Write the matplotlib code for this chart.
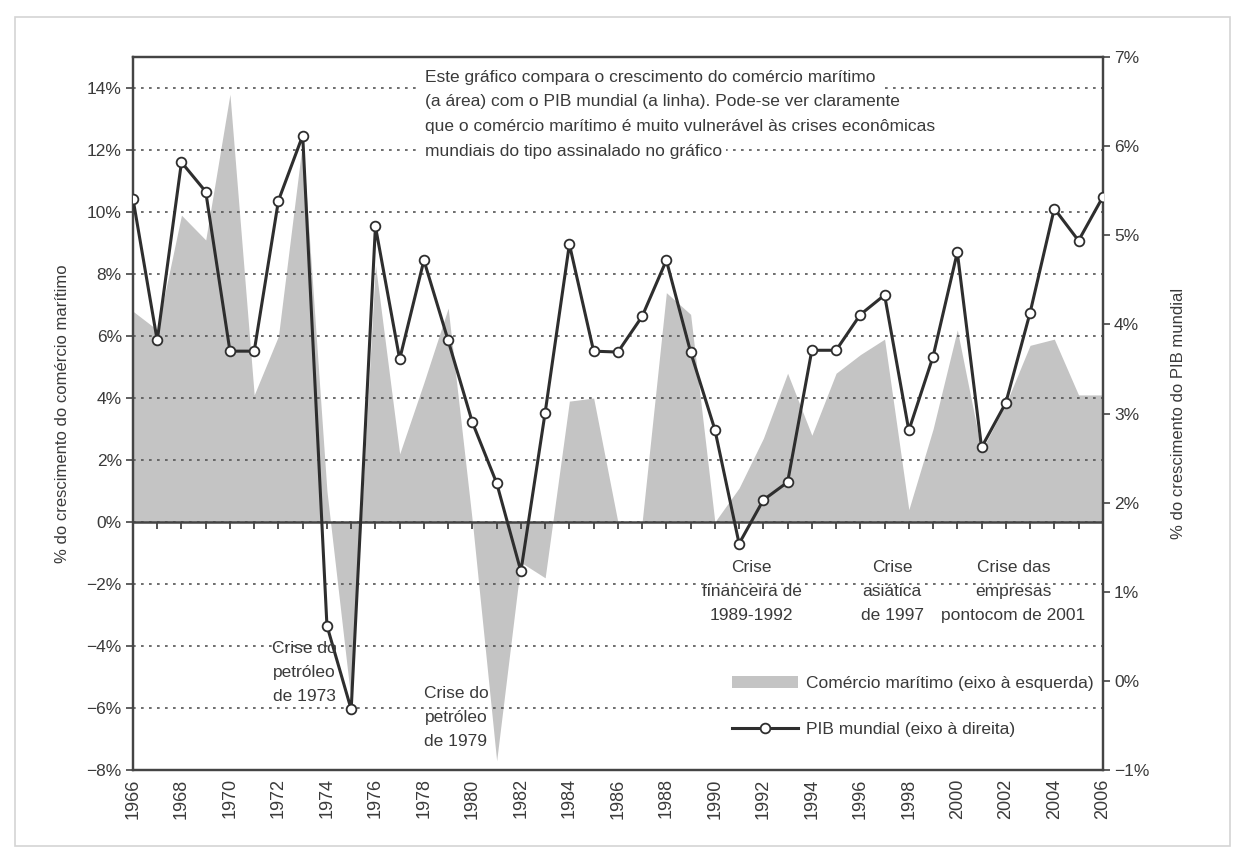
import matplotlib
matplotlib.use('Agg')
import matplotlib.pyplot as plt
from matplotlib import font_manager
from matplotlib.ticker import FuncFormatter, MultipleLocator
from matplotlib.patches import Rectangle

# dados
anos = list(range(1966, 2007))
comercio = [6.8, 6.2, 9.9, 9.1, 13.8, 4.1, 6.0, 12.3, 1.0, -5.8,
            8.3, 2.2, 4.5, 6.9, 0.0, -7.7, -1.3, -1.8, 3.9, 4.0,
            0.0, 0.0, 7.4, 6.7, 0.0, 1.1, 2.7, 4.8, 2.8, 4.8,
            5.4, 5.9, 0.4, 3.0, 6.2, 2.3, 3.8, 5.7, 5.9, 4.1, 4.1]
pib = [5.41, 3.82, 5.82, 5.49, 3.70, 3.70, 5.39, 6.12, 0.62, -0.32,
       5.10, 3.61, 4.72, 3.82, 2.90, 2.22, 1.23, 3.01, 4.90, 3.70,
       3.69, 4.09, 4.72, 3.69, 2.82, 1.54, 2.03, 2.23, 3.71, 3.71,
       4.11, 4.33, 2.81, 3.64, 4.81, 2.62, 3.12, 4.13, 5.30, 4.94, 5.43]

nota = ["Este gráfico compara o crescimento do comércio marítimo",
        "(a área) com o PIB mundial (a linha). Pode-se ver claramente",
        "que o comércio marítimo é muito vulnerável às crises econômicas",
        "mundiais do tipo assinalado no gráfico"]
crises = ["Crise do\npetróleo\nde 1973", "Crise do\npetróleo\nde 1979",
          "Crise\nfinanceira de\n1989-1992", "Crise\nasiática\nde 1997",
          "Crise das\nempresas\npontocom de 2001"]
crise_pos = [(0.177, 0.137), (0.333, 0.074), (0.638, 0.251), (0.783, 0.251), (0.908, 0.251)]

nomes = {f.name for f in font_manager.fontManager.ttflist}
fam = 'Liberation Sans' if 'Liberation Sans' in nomes else 'DejaVu Sans'
plt.rcParams['font.family'] = [fam, 'DejaVu Sans']

cinza = '#c4c4c4'
escuro = '#2e2e2e'
texto = '#3a3a3a'

def pct(v, pos=None):
    return f"{v:.0f}%".replace('-', '\u2212')

fig = plt.figure(figsize=(12.37, 8.61), dpi=100)
fig.patches.append(Rectangle((0.012, 0.018), 0.982, 0.962, transform=fig.transFigure,
                             fill=False, ec='#d4d4d4', lw=1.2))
ax = fig.add_axes([0.1075, 0.1057, 0.784, 0.828])

area = ax.fill_between(anos, comercio, 0, color=cinza, lw=0, zorder=1,
                       label='Comércio marítimo (eixo à esquerda)')
ax.set_xlim(1966, 2006)
ax.set_ylim(-8, 15)
ax.set_yticks(range(-8, 15, 2))
ax.yaxis.set_major_formatter(FuncFormatter(pct))
ax.set_axisbelow(False)
ax.yaxis.grid(True, color='#555555', lw=1.2, ls=(0, (1.6, 3.2)), zorder=2)
ax.axhline(0, color='#444444', lw=1.8, zorder=3)
ax.plot(anos, [0] * len(anos), ls='none', marker=3, ms=5, mew=1.3, color='#444444', zorder=3)

ax.xaxis.set_major_locator(MultipleLocator(2))
ax.xaxis.set_major_formatter(FuncFormatter(lambda v, p: f"{v:.0f}"))
ax.tick_params(axis='x', length=0, pad=6, labelsize=13, labelcolor=texto, labelrotation=90)
ax.tick_params(axis='y', length=5, width=1.2, color='#444444', labelsize=12.5, labelcolor=texto, pad=3)
ax.set_ylabel('% do crescimento do comércio marítimo', fontsize=12, color=texto, labelpad=12)
for s in ax.spines.values():
    s.set_color('#444444')
    s.set_linewidth(1.6)

ax2 = ax.twinx()
linha, = ax2.plot(anos, pib, color=escuro, lw=2.2, marker='o', ms=7, mfc='white',
                  mec=escuro, mew=1.3, zorder=4, label='PIB mundial (eixo à direita)')
ax2.set_ylim(-1, 7)
ax2.set_yticks(range(-1, 8))
ax2.yaxis.set_major_formatter(FuncFormatter(pct))
ax2.tick_params(axis='y', length=5, width=1.2, color='#444444', labelsize=12.5, labelcolor=texto, pad=3)
ax2.set_ylabel('% do crescimento do PIB mundial', fontsize=12, color=texto, labelpad=16)
for s in ax2.spines.values():
    s.set_color('#444444')
    s.set_linewidth(1.6)

for i, linha_txt in enumerate(nota):
    ax2.text(0.301, 0.972 - i * 0.0348, linha_txt, transform=ax2.transAxes, ha='left', va='center',
             fontsize=12.5, color=texto, zorder=6,
             bbox=dict(fc='white', ec='none', pad=3))

for txt, (x, y) in zip(crises, crise_pos):
    ax2.text(x, y, txt, transform=ax2.transAxes, ha='center', va='center', fontsize=12.5,
             color=texto, linespacing=1.75, zorder=6)

ax2.legend([area, linha], [area.get_label(), linha.get_label()], loc='center left',
           bbox_to_anchor=(0.6175, 0.089), frameon=False, fontsize=12.5, handlelength=3.8,
           handletextpad=0.5, labelspacing=1.8, borderaxespad=0, borderpad=0,
           labelcolor=texto)

fig.savefig('out.png', dpi=100)
